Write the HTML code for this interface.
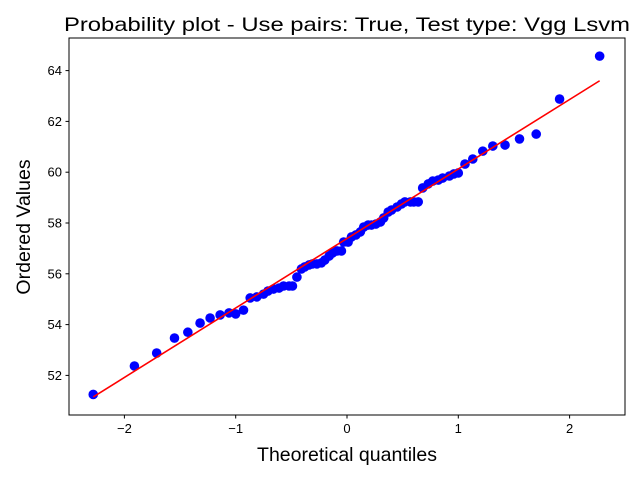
<!DOCTYPE html>
<html><head><meta charset="utf-8"><style>
html,body{margin:0;padding:0;background:#fff}
svg{display:block;font-family:"Liberation Sans","DejaVu Sans",sans-serif}
</style></head><body>
<svg id="chart" width="640" height="480" viewBox="0 0 640 480" xmlns="http://www.w3.org/2000/svg">
<rect width="640" height="480" fill="#fff"/>
<text x="347" y="31" text-anchor="middle" font-size="19.5" textLength="566" lengthAdjust="spacingAndGlyphs">Probability plot - Use pairs: True, Test type: Vgg Lsvm</text>
<text x="347" y="461" text-anchor="middle" font-size="19.5">Theoretical quantiles</text>
<text transform="translate(30,227) rotate(-90)" text-anchor="middle" font-size="19.5">Ordered Values</text>
<g id="ticks"></g>
<g id="marks"></g>
<rect x="69" y="38" width="556" height="377" fill="none" stroke="#000" stroke-width="1"/>
</svg>
<script>
const xQuantiles=[-2.28,-1.91,-1.71,-1.55,-1.43,-1.32,-1.23,-1.14,-1.06,-1.0,-0.93,-0.87,-0.81,-0.75,-0.71,-0.66,-0.61,-0.57,-0.52,-0.49,-0.45,-0.41,-0.38,-0.34,-0.31,-0.27,-0.23,-0.2,-0.16,-0.13,-0.09,-0.05,-0.03,0.01,0.04,0.08,0.12,0.15,0.19,0.22,0.26,0.30,0.33,0.37,0.40,0.45,0.49,0.52,0.57,0.60,0.64,0.68,0.73,0.77,0.82,0.86,0.92,0.96,1.0,1.06,1.13,1.22,1.31,1.42,1.55,1.70,1.91,2.27];
const orderedValues=[51.25,52.37,52.88,53.47,53.7,54.06,54.26,54.38,54.46,54.42,54.57,55.05,55.09,55.2,55.32,55.4,55.44,55.52,55.52,55.52,55.87,56.19,56.27,56.35,56.39,56.39,56.43,56.54,56.7,56.82,56.9,56.9,57.25,57.25,57.45,57.53,57.65,57.84,57.92,57.92,57.96,58.04,58.2,58.43,58.51,58.63,58.75,58.83,58.83,58.83,58.83,59.38,59.54,59.65,59.69,59.77,59.85,59.93,59.97,60.32,60.52,60.83,61.03,61.07,61.31,61.5,62.88,64.57];
const fitSlope=2.736;
const fitIntercept=57.39;
const xTicks=[-2,-1,0,1,2];
const yTicks=[52,54,56,58,60,62,64];
const NS="http://www.w3.org/2000/svg";
const X=q=>347+q*111.3;
const Y=v=>223-(v-58)*25.4;
const tg=document.getElementById('ticks'),mg=document.getElementById('marks');
function mk(tag,attrs,parent){const e=document.createElementNS(NS,tag);for(const k in attrs)e.setAttribute(k,attrs[k]);parent.appendChild(e);return e;}
xTicks.forEach(t=>{
  const l=mk('line',{x1:X(t),x2:X(t),y1:415,y2:418.5,stroke:'#000'},tg);
  
  
  const s=mk('text',{x:X(t),y:433,'text-anchor':'middle','font-size':'13'},tg);
  
  
  s.textContent=(t<0?'\u2212'+(-t):t);
});
yTicks.forEach(t=>{
  const l=mk('line',{x1:65.5,x2:69,y1:Y(t),y2:Y(t),stroke:'#000'},tg);
  
  
  const s=mk('text',{x:62,y:Y(t)+4.5,'text-anchor':'end','font-size':'13'},tg);
  
  
  s.textContent=t;
});
xQuantiles.forEach((q,i)=>{
  const c=mk('circle',{cx:X(q),cy:Y(orderedValues[i]),r:4.8,fill:'#0000ff'},mg);
  
  
});
const q0=xQuantiles[0],q1=xQuantiles[xQuantiles.length-1];
const fl=mk('line',{x1:X(q0),y1:Y(fitIntercept+fitSlope*q0),x2:X(q1),y2:Y(fitIntercept+fitSlope*q1),stroke:'#ff0000','stroke-width':1.6},mg);


</script>
</body></html>
